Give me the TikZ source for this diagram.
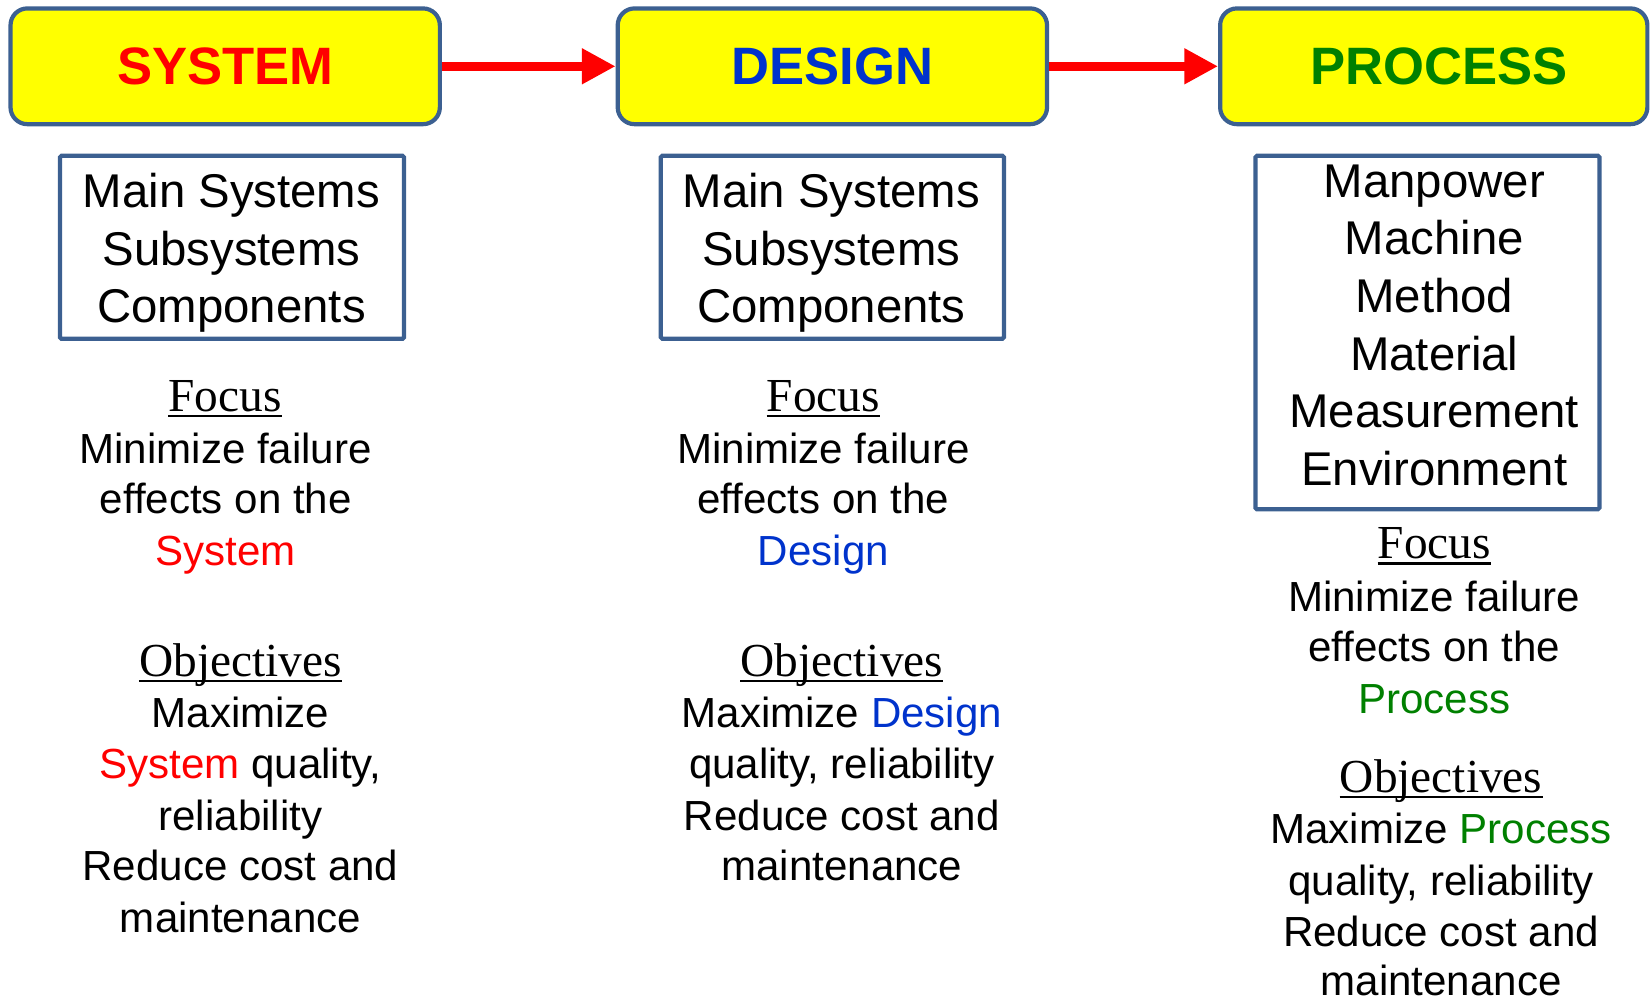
\documentclass[tikz,border=0pt]{standalone}
\usepackage{fontspec}
\setmainfont{Liberation Sans}
\newfontfamily\serifface{Liberation Serif}
\usetikzlibrary{arrows.meta}
\definecolor{frameblue}{RGB}{60,96,145}
\definecolor{hred}{RGB}{255,0,0}
\definecolor{hblue}{RGB}{0,51,204}
\definecolor{hgreen}{RGB}{0,128,0}
\definecolor{hyellow}{RGB}{255,255,0}
\begin{document}
\begin{tikzpicture}[x=1pt,y=-1pt,
  header/.style={draw=frameblue, line width=4pt, fill=hyellow, rounded corners=16pt,
    minimum height=110pt, inner sep=0pt, font=\fontsize{50}{60}\selectfont\bfseries},
  listbox/.style={draw=frameblue, line width=4pt, rounded corners=1.5pt, inner sep=0pt},
  boxtext/.style={anchor=base, inner sep=0pt, font=\fontsize{45}{54}\selectfont},
  bodyline/.style={anchor=base, inner sep=0pt, font=\fontsize{40}{48}\selectfont},
  headword/.style={anchor=base, inner sep=0pt, font=\serifface\fontsize{45}{54}\selectfont},
  uline/.style={line width=2pt},
  flow/.style={draw=hred, line width=9pt, -{Triangle[length=32pt,width=32pt]}}
]
\useasboundingbox (0,0) rectangle (1568,948);

% header boxes
\node[header, minimum width=408pt, text=hred] (sys) at (214,63) {SYSTEM};
\node[header, minimum width=408pt, text=hblue] (des) at (791,63) {DESIGN};
\node[header, minimum width=406pt, text=hgreen] (pro) at (1362.5,63) {\hspace*{10pt}PROCESS};

\draw[flow] (sys.east) -- (des.west);
\draw[flow] (des.east) -- (pro.west);

% list boxes
\node[listbox, minimum width=327pt, minimum height=174pt] (b1) at (220.5,235) {};
\node[listbox, minimum width=326pt, minimum height=174pt] (b2) at (791,235) {};
\node[listbox, minimum width=327pt, minimum height=336pt] (b3) at (1356.5,316) {};

\node[boxtext] (b1a) at (220,197) {Main Systems};
\node[boxtext] (b1b) at (220,252) {Subsystems};
\node[boxtext] (b1c) at (220,306) {Components};

\node[boxtext] (b2a) at (790,197) {Main Systems};
\node[boxtext] (b2b) at (790,252) {Subsystems};
\node[boxtext] (b2c) at (790,306) {Components};

\node[boxtext] (b3a) at (1363,188) {Manpower};
\node[boxtext] (b3b) at (1363,242) {Machine};
\node[boxtext] (b3c) at (1363,297) {Method};
\node[boxtext] (b3d) at (1363,352) {Material};
\node[boxtext] (b3e) at (1363,406) {Measurement};
\node[boxtext] (b3f) at (1363,461) {Environment};

% column 1
\node[headword] (f1) at (214,391) {Focus};
\draw[uline] ([yshift=-4.5pt]f1.base west) -- ([yshift=-4.5pt]f1.base east);
\node[bodyline] (f1a) at (214.5,440) {Minimize failure};
\node[bodyline] (f1b) at (214.5,488) {effects on the};
\node[bodyline] (f1c) at (214.5,537) {\color{hred}System};
\node[headword] (o1) at (228.5,643) {Objectives};
\draw[uline] ([yshift=-4.5pt]o1.base west) -- ([yshift=-4.5pt]o1.base east);
\node[bodyline] (o1a) at (228.5,691) {Maximize};
\node[bodyline] (o1b) at (228.5,740) {{\color{hred}System} quality,};
\node[bodyline] (o1c) at (228.5,789) {reliability};
\node[bodyline] (o1d) at (228.5,837) {Reduce cost and};
\node[bodyline] (o1e) at (228.5,886) {maintenance};

% column 2
\node[headword] (f2) at (782.5,391) {Focus};
\draw[uline] ([yshift=-4.5pt]f2.base west) -- ([yshift=-4.5pt]f2.base east);
\node[bodyline] (f2a) at (782.5,440) {Minimize failure};
\node[bodyline] (f2b) at (782.5,488) {effects on the};
\node[bodyline] (f2c) at (782.5,537) {\color{hblue}Design};
\node[headword] (o2) at (800,643) {Objectives};
\draw[uline] ([yshift=-4.5pt]o2.base west) -- ([yshift=-4.5pt]o2.base east);
\node[bodyline] (o2a) at (800,691) {Maximize {\color{hblue}Design}};
\node[bodyline] (o2b) at (800,740) {quality, reliability};
\node[bodyline] (o2c) at (800,789) {Reduce cost and};
\node[bodyline] (o2d) at (800,837) {maintenance};

% column 3
\node[headword] (f3) at (1363,531) {Focus};
\draw[uline] ([yshift=-4.5pt]f3.base west) -- ([yshift=-4.5pt]f3.base east);
\node[bodyline] (f3a) at (1363,581) {Minimize failure};
\node[bodyline] (f3b) at (1363,629) {effects on the};
\node[bodyline] (f3c) at (1363,678) {\color{hgreen}Process};
\node[headword] (o3) at (1369.5,753) {Objectives};
\draw[uline] ([yshift=-4.5pt]o3.base west) -- ([yshift=-4.5pt]o3.base east);
\node[bodyline] (o3a) at (1369.5,802) {Maximize {\color{hgreen}Process}};
\node[bodyline] (o3b) at (1369.5,851) {quality, reliability};
\node[bodyline] (o3c) at (1369.5,899) {Reduce cost and};
\node[bodyline] (o3d) at (1369.5,946) {maintenance};
\end{tikzpicture}
\end{document}
